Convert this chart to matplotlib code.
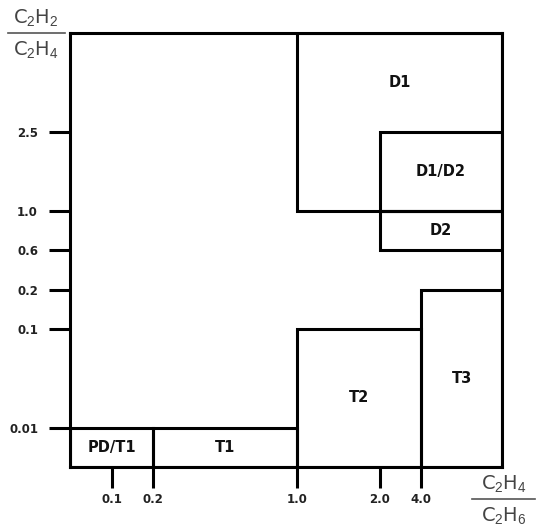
import numpy as np
import matplotlib.pyplot as plt
from matplotlib.patches import Rectangle

plt.rcParams["mathtext.fontset"] = "custom"
plt.rcParams["mathtext.rm"] = "Liberation Sans"
plt.rcParams["mathtext.it"] = "Liberation Sans:italic"
plt.rcParams["mathtext.bf"] = "Liberation Sans:bold"

# Duval-style zone chart: C2H2/C2H4 vs C2H4/C2H6
x_ticks = [0.1, 0.2, 1.0, 2.0, 4.0]
x_tick_labels = ["0.1", "0.2", "1.0", "2.0", "4.0"]
y_ticks = [0.01, 0.1, 0.2, 0.6, 1.0, 2.5]
y_tick_labels = ["0.01", "0.1", "0.2", "0.6", "1.0", "2.5"]

x_min, x_max = 0.05, 8.0
y_min, y_max = 0.003, 10.0

zones = ["PD/T1", "T1", "T2", "T3", "D2", "D1/D2", "D1"]
zone_x_lo = [x_min, 0.2, 1.0, 4.0, 2.0, 2.0, 1.0]
zone_x_hi = [0.2, 1.0, 4.0, x_max, x_max, x_max, x_max]
zone_y_lo = [y_min, y_min, y_min, y_min, 0.6, 1.0, 1.0]
zone_y_hi = [0.01, 0.01, 0.1, 0.2, 1.0, 2.5, y_max]
# D1 label sits in the part above D1/D2
label_y_lo = [y_min, y_min, y_min, y_min, 0.6, 1.0, 2.5]

# ---- schematic (non-uniform) scales ----
x_knots_v = np.log10([x_min, 0.1, 0.2, 1.0, 2.0, 4.0, x_max])
x_knots_p = np.array([0, 42, 83, 227, 310, 351, 432], dtype=float)
y_knots_v = np.log10([y_min, 0.01, 0.1, 0.2, 0.6, 1.0, 2.5, y_max])
y_knots_p = np.array([0, 39, 138, 177, 217, 256, 335, 434], dtype=float)


def make_scale(kv, kp):
    def fwd(v):
        v = np.clip(np.asarray(v, dtype=float), 1e-9, None)
        return np.interp(np.log10(v), kv, kp)

    def inv(p):
        return 10 ** np.interp(np.asarray(p, dtype=float), kp, kv)
    return fwd, inv


fx, ix = make_scale(x_knots_v, x_knots_p)
fy, iy = make_scale(y_knots_v, y_knots_p)

fig = plt.figure(figsize=(5.4, 5.3), dpi=100)
ax = fig.add_axes([70 / 540, 63 / 530, 432 / 540, 434 / 530])
ax.set_xscale("function", functions=(fx, ix))
ax.set_yscale("function", functions=(fy, iy))
ax.set_xlim(x_min, x_max)
ax.set_ylim(y_min, y_max)

lw = 2.2
for name, x0, x1, y0, y1, ly0 in zip(zones, zone_x_lo, zone_x_hi,
                                     zone_y_lo, zone_y_hi, label_y_lo):
    ax.add_patch(Rectangle((x0, y0), x1 - x0, y1 - y0, fill=False,
                           edgecolor="black", linewidth=lw, zorder=3))
    cx = ix((fx(x0) + fx(x1)) / 2)
    cy = iy((fy(ly0) + fy(y1)) / 2)
    ax.text(cx, cy, name, ha="center", va="center", fontsize=10.5,
            fontweight="bold", color="#111111")

for s in ax.spines.values():
    s.set_linewidth(lw)

ax.set_xticks(x_ticks)
ax.set_xticklabels(x_tick_labels)
ax.set_yticks(y_ticks)
ax.set_yticklabels(y_tick_labels)
ax.minorticks_off()
ax.tick_params(axis="both", direction="out", length=15, width=lw,
               labelsize=8.5, labelcolor="#222222")
ax.tick_params(axis="x", pad=4)
ax.tick_params(axis="y", pad=8)
for t in ax.get_xticklabels() + ax.get_yticklabels():
    t.set_fontweight("bold")

# fraction-style axis labels
txt = dict(fontsize=14, color="#444444", ha="center", va="center")
fig.text(36 / 540, 1 - 17 / 530, r"C$_2$H$_2$", **txt)
fig.text(36 / 540, 1 - 49 / 530, r"C$_2$H$_4$", **txt)
fig.add_artist(plt.Line2D([8 / 540, 65 / 540], [1 - 33 / 530, 1 - 33 / 530],
                          color="#555555", linewidth=1.2))
fig.text(504 / 540, 1 - 483 / 530, r"C$_2$H$_4$", **txt)
fig.text(504 / 540, 1 - 515 / 530, r"C$_2$H$_6$", **txt)
fig.add_artist(plt.Line2D([472 / 540, 535 / 540], [1 - 499 / 530, 1 - 499 / 530],
                          color="#555555", linewidth=1.2))

plt.savefig("out.png", dpi=100)
